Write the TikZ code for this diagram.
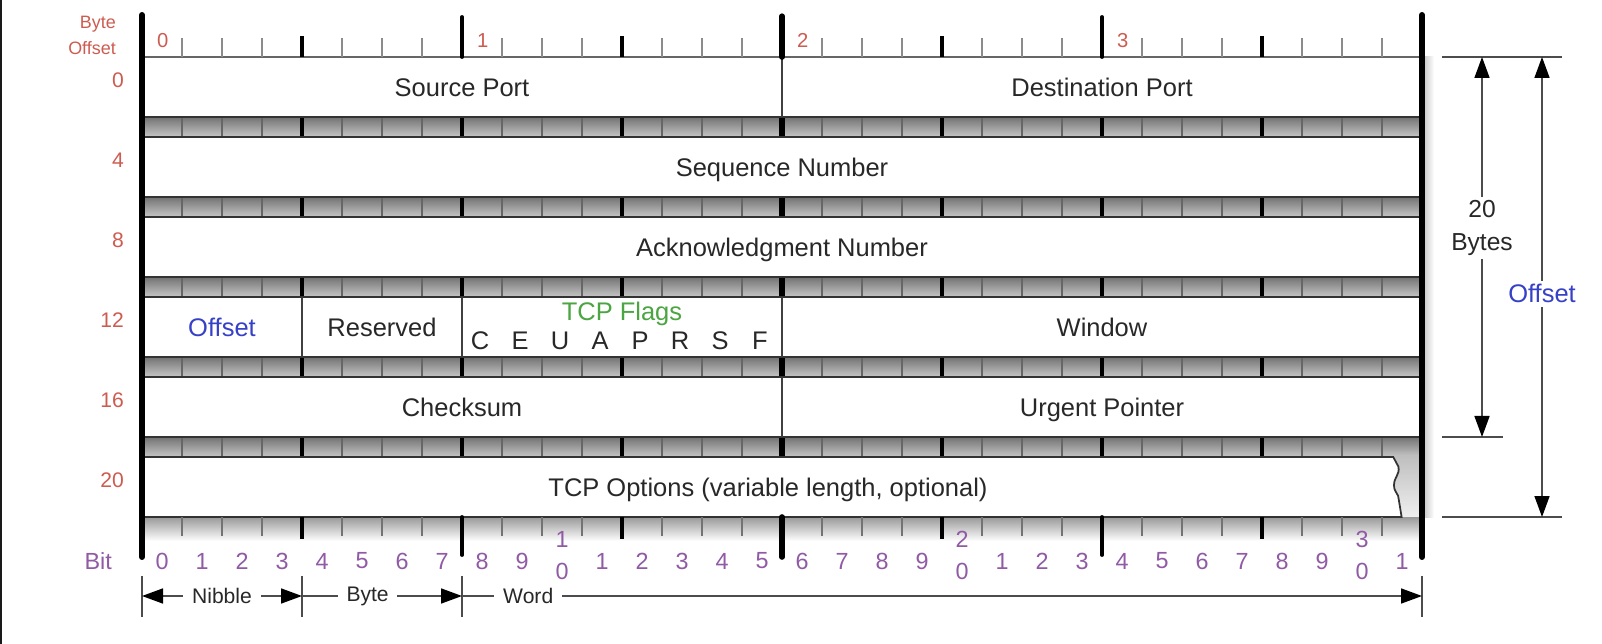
\documentclass[tikz,border=0pt]{standalone}
\usepackage{fontspec}
\setmainfont{Liberation Sans}
\usetikzlibrary{arrows.meta}

\definecolor{offred}{RGB}{205,92,80}
\definecolor{bitpurple}{RGB}{145,90,165}
\definecolor{fieldblue}{RGB}{55,65,200}
\definecolor{flaggreen}{RGB}{75,165,65}
\definecolor{fieldtext}{RGB}{40,40,40}

\begin{document}
\begin{tikzpicture}[x=0.8cm, y=0.8cm,
  field/.style={text=fieldtext, text height=1.45ex, text depth=0pt, yshift=-1.8pt, font=\fontsize{14.5}{17}\selectfont},
  rowlbl/.style={text=offred, anchor=east, font=\fontsize{12}{14}\selectfont},
  bytelbl/.style={text=offred, anchor=west, font=\fontsize{11.5}{13}\selectfont},
  bitlbl/.style={text=bitpurple, font=\fontsize{13.3}{15}\selectfont},
  dimlbl/.style={fill=white, inner ysep=2pt, inner xsep=5pt, text=fieldtext, font=\fontsize{12}{14}\selectfont},
  rowbox/.style={draw=black!80, line width=1pt, fill=white},
  divline/.style={draw=black!75, line width=1pt},
  dimline/.style={draw=black!70, line width=0.9pt},
  tipr/.style={-{Triangle[length=0.42cm,width=0.3cm,color=black]}},
  tipb/.style={{Triangle[length=0.42cm,width=0.3cm,color=black]}-{Triangle[length=0.42cm,width=0.3cm,color=black]}},
]

\useasboundingbox (-3.55,1.425) rectangle (36.5,-14.675);
\fill[white] (-3.55,1.425) rectangle (36.5,-14.675);
\fill[black!90] (-3.55,1.425) rectangle (-3.49,-14.675);

% grey strips between the rows
\foreach \k in {0,...,4} {
  \shade[top color=black!55, bottom color=black!22] (0,-2*\k-1.5) rectangle (32,-2*\k-2);
  \foreach \i in {1,...,31}
    \draw[black!60, line width=0.8pt] (\i,-2*\k-1.5) -- (\i,-2*\k-2);
  \foreach \i in {4,8,...,28}
    \draw[line width=2pt] (\i,-2*\k-1.5) -- (\i,-2*\k-2);
  \draw[line width=3.2pt] (16,-2*\k-1.5) -- (16,-2*\k-2);
}

% shadows
\shade[left color=black!25, right color=white] (32,0) rectangle (32.3,-11.5);
\shade[top color=black!25, bottom color=black!6] (31.2,-10) rectangle (32,-11.5);
\shade[top color=black!40, bottom color=white] (0,-11.5) rectangle (32,-12.1);

% rows
\draw[rowbox] (0,0) rectangle (32,-1.5);
\draw[divline] (16,0) -- (16,-1.5);
\node[field] (srcport) at (8,-0.75) {Source Port};
\node[field] (dstport) at (24,-0.75) {Destination Port};

\draw[rowbox] (0,-2) rectangle (32,-3.5);
\node[field] (seqnum) at (16,-2.75) {Sequence Number};

\draw[rowbox] (0,-4) rectangle (32,-5.5);
\node[field] (acknum) at (16,-4.75) {Acknowledgment Number};

\draw[rowbox] (0,-6) rectangle (32,-7.5);
\draw[divline] (4,-6) -- (4,-7.5);
\draw[divline] (8,-6) -- (8,-7.5);
\draw[divline] (16,-6) -- (16,-7.5);
\node[field, text=fieldblue] (dataoff) at (2,-6.75) {Offset};
\node[field] (reserved) at (6,-6.75) {Reserved};
\node[field, text=flaggreen] (flags) at (12,-6.35) {TCP Flags};
\foreach \f [count=\i from 8] in {C,E,U,A,P,R,S,F}
  \node[field] (flag\f) at (\i+0.45,-7.07) {\f};
\node[field] (window) at (24,-6.75) {Window};

\draw[rowbox] (0,-8) rectangle (32,-9.5);
\draw[divline] (16,-8) -- (16,-9.5);
\node[field] (checksum) at (8,-8.75) {Checksum};
\node[field] (urgent) at (24,-8.75) {Urgent Pointer};

\draw[rowbox] (0,-10) -- (31.28,-10) -- (31.41,-10.24)
  .. controls (31.45,-10.45) and (31.3,-10.5) .. (31.3,-10.7)
  .. controls (31.3,-10.9) and (31.42,-10.9) .. (31.42,-11.07)
  -- (31.49,-11.5) -- (0,-11.5) -- cycle;
\node[field] (options) at (15.65,-10.75) {TCP Options (variable length, optional)};

% top ruler
\draw[black!60, line width=1pt] (0,0) -- (32,0);
\foreach \i in {1,...,31}
  \draw[black!45, line width=0.9pt] (\i,0) -- (\i,0.47);
\foreach \i in {4,12,20,28}
  \draw[line width=1.8pt] (\i,0) -- (\i,0.53);
\foreach \i in {8,24}
  \draw[line width=2.2pt, line cap=round] (\i,0) -- (\i,1.0);
\draw[line width=3.2pt, line cap=round] (16,0) -- (16,1.02);

% bottom ruler
\foreach \i in {1,...,31}
  \draw[black!55, line width=0.9pt] (\i,-11.5) -- (\i,-11.97);
\foreach \i in {4,12,20,28}
  \draw[line width=1.8pt] (\i,-11.5) -- (\i,-12.05);
\foreach \i in {8,24}
  \draw[line width=2.2pt, line cap=round] (\i,-11.5) -- (\i,-12.45);
\draw[line width=3.2pt, line cap=round] (16,-11.5) -- (16,-12.5);

% side bars
\draw[line width=3.4pt, line cap=round] (0,1.05) -- (0,-12.5);
\draw[line width=3.4pt, line cap=round] (32,1.05) -- (32,-12.5);

% byte offsets
\node[rowlbl, align=right, font=\fontsize{10.2}{14.8}\selectfont] (byteoff) at (-0.5,0.55) {Byte\\Offset};
\foreach \b in {0,...,3}
  \node[bytelbl] (byte\b) at (8*\b+0.22,0.42) {\b};
\foreach \o [count=\k from 0] in {0,4,8,12,16,20}
  \node[rowlbl] (off\o) at (-0.3,-0.58-2*\k) {\o};

% bit numbers
\node[bitlbl, anchor=east] (bitword) at (-0.6,-12.6) {Bit};
\foreach \i in {0,...,9,11,12,...,19,21,22,...,29,31} {
  \pgfmathtruncatemacro{\dig}{mod(\i,10)}
  \node[bitlbl] (bit\i) at (\i+0.5,-12.6) {\dig};
}
\foreach \t in {1,2,3} {
  \node[bitlbl] (bit\t0) at (10*\t+0.5,-12.07) {\t};
  \node[bitlbl] (bit\t0z) at (10*\t+0.5,-12.87) {0};
}

% nibble / byte / word
\coordinate (n0) at (0,-13.475);
\coordinate (n4) at (4,-13.475);
\coordinate (n8) at (8,-13.475);
\coordinate (n32) at (32,-13.475);
\foreach \i in {0,4,8,32}
  \draw[dimline] (\i,-12.97) -- (\i,-13.99);
\draw[dimline, tipb] (n0) -- node[dimlbl] (nibble) {Nibble} (n4);
\draw[dimline, tipr] (n4) -- node[dimlbl, pos=0.41] (bytew) {Byte} (n8);
\draw[dimline, tipr] (n8) -- node[dimlbl, pos=0.069] (word) {Word} (n32);

% header length
\coordinate (hl0) at (32.5,0);
\coordinate (hl0r) at (35.5,0);
\coordinate (hl20) at (32.5,-9.5);
\coordinate (hl20r) at (34.03,-9.5);
\coordinate (hlend) at (32.5,-11.5);
\coordinate (hlendr) at (35.5,-11.5);
\draw[dimline] (hl0) -- (hl0r);
\draw[dimline] (hl20) -- (hl20r);
\draw[dimline] (hlend) -- (hlendr);
\coordinate (b20top) at (33.5,0);
\coordinate (b20bot) at (33.5,-9.5);
\coordinate (offtop) at (35,0);
\coordinate (offbot) at (35,-11.5);
\draw[dimline, tipb] (b20top) -- node[dimlbl, pos=0.45, align=center, font=\fontsize{14}{18.8}\selectfont] (twenty) {20\\Bytes} (b20bot);
\draw[dimline, tipb] (offtop) -- node[dimlbl, pos=0.515, text=fieldblue, font=\fontsize{14.5}{17}\selectfont] (hdroff) {Offset} (offbot);

\end{tikzpicture}
\end{document}
